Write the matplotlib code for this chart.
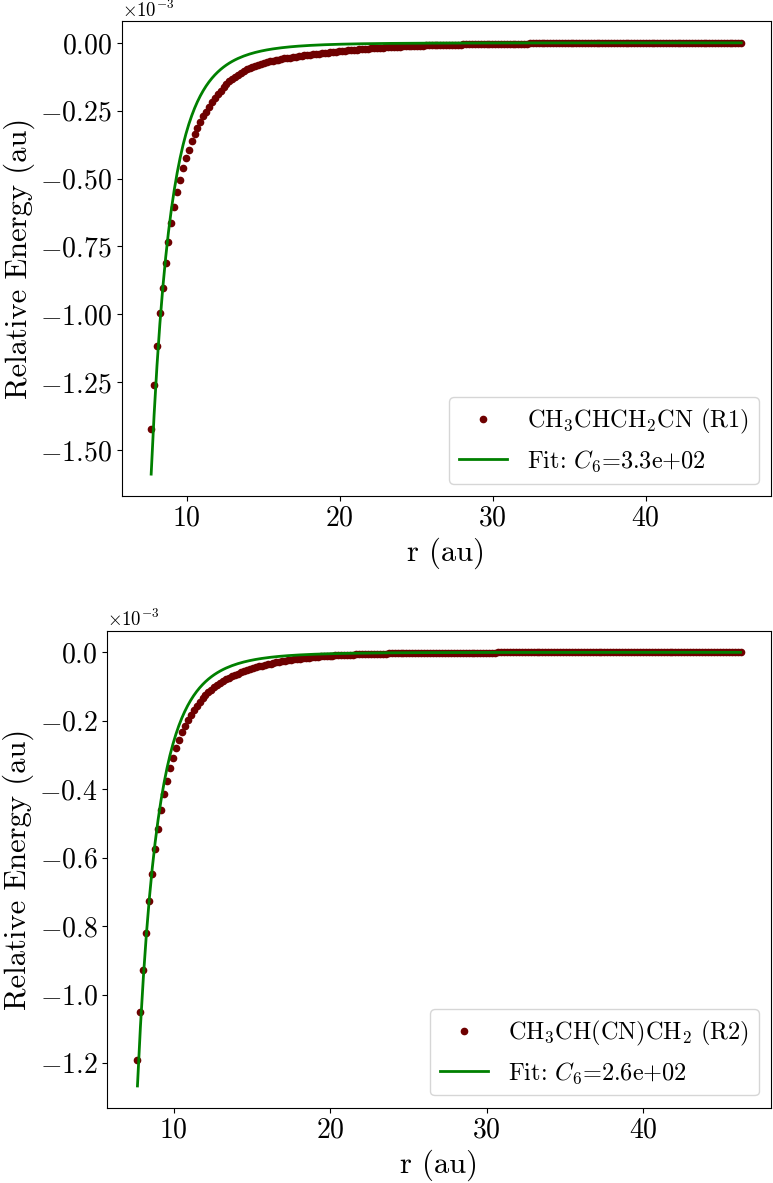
import matplotlib
matplotlib.use("Agg")
import matplotlib.pyplot as plt
import numpy as np

plt.rcParams["font.family"] = "serif"
plt.rcParams["font.serif"] = ["cmr10"]
plt.rcParams["mathtext.fontset"] = "cm"
plt.rcParams["axes.formatter.use_mathtext"] = True
plt.rcParams["axes.unicode_minus"] = True

# separation r (au), same grid for both radicals
r_au = [
    7.68, 7.87, 8.06, 8.25, 8.44, 8.63, 8.81, 9.00, 9.19, 9.38,
    9.57, 9.76, 9.95, 10.14, 10.33, 10.52, 10.70, 10.89, 11.08, 11.27,
    11.46, 11.65, 11.84, 12.03, 12.22, 12.41, 12.59, 12.78, 12.97, 13.16,
    13.35, 13.54, 13.73, 13.92, 14.11, 14.30, 14.48, 14.67, 14.86, 15.05,
    15.24, 15.43, 15.62, 15.81, 16.00, 16.19, 16.37, 16.56, 16.75, 16.94,
    17.13, 17.32, 17.51, 17.70, 17.89, 18.08, 18.26, 18.45, 18.64, 18.83,
    19.02, 19.21, 19.40, 19.59, 19.78, 19.97, 20.15, 20.34, 20.53, 20.72,
    20.91, 21.10, 21.29, 21.48, 21.67, 21.86, 22.04, 22.23, 22.42, 22.61,
    22.80, 22.99, 23.18, 23.37, 23.56, 23.75, 23.93, 24.12, 24.31, 24.50,
    24.69, 24.88, 25.07, 25.26, 25.45, 25.64, 25.82, 26.01, 26.20, 26.39,
    26.58, 26.77, 26.96, 27.15, 27.34, 27.53, 27.71, 27.90, 28.09, 28.28,
    28.47, 28.66, 28.85, 29.04, 29.23, 29.42, 29.60, 29.79, 29.98, 30.17,
    30.36, 30.55, 30.74, 30.93, 31.12, 31.31, 31.49, 31.68, 31.87, 32.06,
    32.25, 32.44, 32.63, 32.82, 33.01, 33.20, 33.38, 33.57, 33.76, 33.95,
    34.14, 34.33, 34.52, 34.71, 34.90, 35.09, 35.27, 35.46, 35.65, 35.84,
    36.03, 36.22, 36.41, 36.60, 36.79, 36.98, 37.16, 37.35, 37.54, 37.73,
    37.92, 38.11, 38.30, 38.49, 38.68, 38.87, 39.05, 39.24, 39.43, 39.62,
    39.81, 40.00, 40.19, 40.38, 40.57, 40.76, 40.94, 41.13, 41.32, 41.51,
    41.70, 41.89, 42.08, 42.27, 42.46, 42.65, 42.83, 43.02, 43.21, 43.40,
    43.59, 43.78, 43.97, 44.16, 44.35, 44.54, 44.72, 44.91, 45.10, 45.29,
    45.48, 45.67, 45.86, 46.05, 46.24,
]

# relative energies, in units of -1e-6 au
e_r1 = [
    1423, 1260, 1118, 996, 902, 812, 734, 665, 604, 551,
    505, 462, 426, 393, 363, 335, 312, 290, 271, 254,
    235, 218.6, 203.4, 189.2, 176.0, 163.7, 152.3, 141.7, 131.8, 124.1,
    116.9, 110.0, 103.6, 97.6, 92.8, 88.4, 84.3, 80.6, 77.2, 74.1,
    71.3, 68.6, 66.1, 63.7, 61.5, 59.4, 57.6, 55.9, 54.2, 52.6,
    51.0, 49.5, 48.0, 46.5, 45.1, 43.8, 42.5, 41.1, 39.7, 38.3,
    37.0, 35.8, 34.6, 33.4, 32.3, 31.2, 30.1, 29.1, 28.0, 26.9,
    25.9, 24.9, 23.9, 23.0, 22.1, 21.3, 20.4, 19.6, 18.9, 18.2,
    17.5, 16.8, 16.2, 15.5, 14.9, 14.4, 13.8, 13.3, 12.8, 12.3,
    11.8, 11.3, 10.9, 10.5, 10.1, 9.7, 9.3, 9.0, 8.6, 8.3,
    8.0, 7.7, 7.4, 7.1, 6.8, 6.6, 6.3, 6.1, 5.8, 5.6,
    5.4, 5.2, 5.0, 4.8, 4.6, 4.4, 4.3, 4.1, 3.9, 3.8,
    3.6, 3.5, 3.4, 3.2, 3.1, 3.0, 2.9, 2.8, 2.7, 2.6,
    2.5, 2.4, 2.3, 2.2, 2.1, 2.0, 1.9, 1.9, 1.8, 1.7,
    1.7, 1.6, 1.5, 1.5, 1.4, 1.4, 1.3, 1.3, 1.2, 1.2,
    1.1, 1.1, 1.0, 1.0, 1.0, 0.9, 0.9, 0.8, 0.8, 0.8,
    0.8, 0.7, 0.7, 0.7, 0.6, 0.6, 0.6, 0.6, 0.5, 0.5,
    0.5, 0.5, 0.4, 0.4, 0.4, 0.4, 0.4, 0.3, 0.3, 0.3,
    0.3, 0.3, 0.3, 0.3, 0.2, 0.2, 0.2, 0.2, 0.2, 0.2,
    0.2, 0.2, 0.2, 0.2, 0.1, 0.1, 0.1, 0.1, 0.1, 0.1,
    0.1, 0.1, 0.1, 0.1, 0.1,
]

e_r2 = [
    1191, 1051, 928, 819, 728, 647, 576, 515, 462, 415,
    375, 339, 308, 280, 256, 234, 214, 198, 182.5, 168.5,
    155.9, 144.5, 134.2, 124.8, 116.3, 108.6, 101.6, 95.2, 89.3, 83.8,
    78.8, 74.1, 69.8, 65.8, 62.1, 58.6, 55.3, 52.1, 49.2, 46.4,
    43.8, 41.3, 39.0, 36.8, 34.7, 32.7, 30.9, 29.1, 27.5, 25.9,
    24.5, 23.1, 21.8, 20.5, 19.4, 18.3, 17.2, 16.3, 15.3, 14.5,
    13.6, 12.9, 12.1, 11.4, 10.8, 10.2, 9.6, 9.1, 8.5, 8.1,
    7.6, 7.2, 6.8, 6.4, 6.0, 5.7, 5.3, 5.0, 4.8, 4.5,
    4.2, 4.0, 3.8, 3.6, 3.4, 3.2, 3.0, 2.9, 2.7, 2.6,
    2.5, 2.3, 2.2, 2.1, 2.0, 1.9, 1.8, 1.7, 1.6, 1.5,
    1.4, 1.4, 1.3, 1.2, 1.2, 1.1, 1.0, 1.0, 0.9, 0.9,
    0.8, 0.8, 0.8, 0.7, 0.7, 0.6, 0.6, 0.6, 0.5, 0.5,
    0.5, 0.5, 0.4, 0.4, 0.4, 0.4, 0.4, 0.4, 0.4, 0.4,
    0.3, 0.3, 0.3, 0.3, 0.3, 0.3, 0.3, 0.3, 0.3, 0.3,
    0.2, 0.2, 0.2, 0.2, 0.2, 0.2, 0.2, 0.2, 0.2, 0.2,
    0.2, 0.2, 0.2, 0.2, 0.2, 0.1, 0.1, 0.1, 0.1, 0.1,
    0.1, 0.1, 0.1, 0.1, 0.1, 0.1, 0.1, 0.1, 0.1, 0.1,
    0.1, 0.1, 0.1, 0.1, 0.1, 0.1, 0.1, 0.1, 0.1, 0.1,
    0.0, 0.0, 0.0, 0.0, 0.0, 0.0, 0.0, 0.0, 0.0, 0.0,
    0.0, 0.0, 0.0, 0.0, 0.0, 0.0, 0.0, 0.0, 0.0, 0.0,
    0.0, 0.0, 0.0, 0.0, 0.0,
]

labels = [r"CH$_3$CHCH$_2$CN (R1)", r"CH$_3$CH(CN)CH$_2$ (R2)"]
c6_fit = [326, 260]

# axes boxes in figure fractions (left, bottom, width, height)
boxes = [
    (0.1574, 0.5810, 0.8396, 0.4010),
    (0.1388, 0.0637, 0.8582, 0.4032),
]

fig = plt.figure(figsize=(7.73, 11.83), dpi=100)
r = np.array(r_au)

for box, energy, label, c6 in zip(boxes, [e_r1, e_r2], labels, c6_fit):
    ax = fig.add_axes(box)
    e = -np.array(energy) * 1e-6
    ax.plot(r, e, "o", color="#6e0000", markersize=4.5, label=label)
    ax.plot(r, -c6 / r**6, color="green", linewidth=2.0,
            label=r"Fit: $C_6$=" + f"{c6:.1e}")
    ax.set_xlabel("r (au)", fontsize=22)
    ax.set_ylabel("Relative Energy (au)", fontsize=22)
    ax.ticklabel_format(axis="y", style="sci", scilimits=(0, 0))
    ax.tick_params(labelsize=20)
    ax.yaxis.get_offset_text().set_fontsize(13.5)
    ax.legend(loc="lower right", fontsize=17.5)

fig.savefig("out.png", dpi=100)
